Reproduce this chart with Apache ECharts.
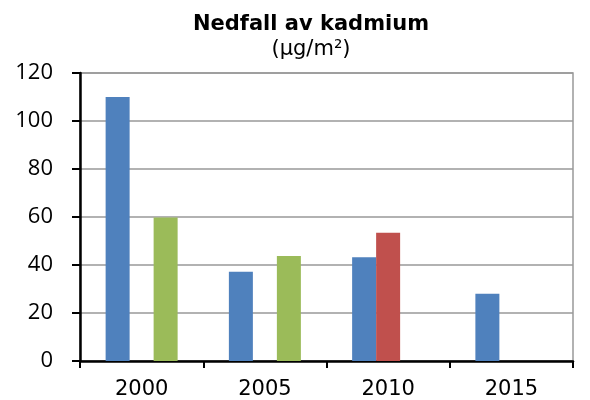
<!DOCTYPE html>
<html>
<head>
<meta charset="utf-8">
<script src="https://cdn.jsdelivr.net/npm/echarts@6/dist/echarts.min.js"></script>
<style>
  html, body { margin: 0; padding: 0; background: #fff; }
  #chart { width: 590px; height: 400px; }
</style>
</head>
<body>
<div id="chart"></div>
<script>
// årstall og verdier (µg/m²)
const years = ["2000", "2005", "2010", "2015"];
const blueValues = [110, 37.2, 43.2, 28];
const redValues = [null, null, 53.4, null];
const greenValues = [59.8, 43.8, null, null];
const yTicks = { min: 0, max: 120, interval: 20 };

const chart = echarts.init(document.getElementById("chart"));

const barSeries = (data, color) => ({
    type: "bar",
    data: data,
    barWidth: 24,
    barGap: "0%",
    itemStyle: { color: color },
    emphasis: { disabled: true }
});

chart.setOption({
    animation: false,
    title: [
        {
            text: "Nedfall av kadmium",
            left: 306,
            top: 9,
            textAlign: "center",
            textStyle: {
                fontFamily: "DejaVu Sans",
                fontWeight: "bold",
                fontSize: 21,
                color: "#000"
            }
        },
        {
            text: "(µg/m²)",
            left: 306,
            top: 34,
            textAlign: "center",
            textStyle: {
                fontFamily: "DejaVu Sans",
                fontWeight: "normal",
                fontSize: 21,
                color: "#000"
            }
        }
    ],
    grid: {
        left: 80,
        right: 17,
        top: 73,
        bottom: 39,
        show: true,
        borderColor: "#999",
        borderWidth: 1.5
    },
    xAxis: {
        type: "category",
        data: years,
        axisLine: { lineStyle: { color: "#000", width: 2.5 } },
        axisTick: { show: true, length: 7, lineStyle: { color: "#000", width: 2 } },
        axisLabel: {
            margin: 18,
            fontFamily: "DejaVu Sans",
            fontSize: 21,
            color: "#000"
        }
    },
    yAxis: {
        type: "value",
        min: yTicks.min,
        max: yTicks.max,
        interval: yTicks.interval,
        axisLine: { show: true, lineStyle: { color: "#000", width: 2.5 } },
        axisTick: { show: true, length: 8, lineStyle: { color: "#000", width: 2 } },
        splitLine: { lineStyle: { color: "#999", width: 1.5 } },
        axisLabel: {
            margin: 27,
            fontFamily: "Open Sans",
            fontSize: 22,
            color: "#000"
        }
    },
    series: [
        barSeries(blueValues, "#4F81BD"),
        barSeries(redValues, "#C0504D"),
        barSeries(greenValues, "#9BBB59")
    ]
});
</script>
</body>
</html>
